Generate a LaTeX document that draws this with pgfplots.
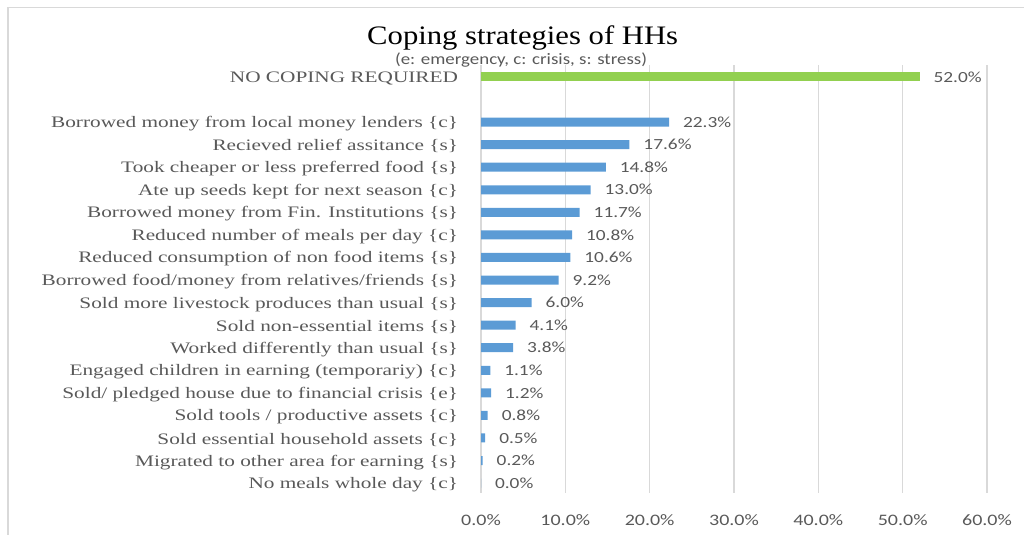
\documentclass[border=0pt]{standalone}
\usepackage{pgfplots}
\pgfplotsset{compat=1.18}
\usepackage{fontspec}
\setmainfont{Liberation Serif}
\newfontfamily\catfont[FakeStretch=1.33]{Liberation Serif}
\newfontfamily\titlefont[FakeStretch=1.15]{Liberation Serif}
\newfontfamily\numfont[FakeStretch=1.25]{Carlito}
\newfontfamily\subfont[FakeStretch=1.18]{Carlito}
\definecolor{bblue}{HTML}{5B9BD5}
\definecolor{bgreen}{HTML}{92D050}
\definecolor{tgray}{HTML}{595959}
\definecolor{ggray}{HTML}{D9D9D9}
\pgfplotstableread{
y v
0 0.0
1 0.2
2 0.5
3 0.8
4 1.2
5 1.1
6 3.8
7 4.1
8 6.0
9 9.2
10 10.6
11 10.8
12 11.7
13 13.0
14 14.8
15 17.6
16 22.3
}\blue
\pgfplotstableread{
y v
18 52.0
}\green
\begin{document}
\begin{tikzpicture}
\path[use as bounding box] (0,0) rectangle (768pt,401.25pt);
\draw[ggray, line width=1pt] (6pt,-2pt) -- (6pt,395.6pt) -- (770pt,395.6pt);
\node[font=\titlefont\fontsize{20}{23}\selectfont, text=black] at (392pt,373pt) {Coping strategies of HHs};
\node[font=\subfont\fontsize{12}{14}\selectfont, text=tgray] at (390.75pt,356.25pt) {(e: emergency, c: crisis, s: stress)};
\begin{axis}[
 at={(360.75pt,31.5pt)}, anchor=south west,
 scale only axis, width=379.5pt, height=321pt,
 xmin=0, xmax=60, ymin=-0.44, ymax=18.53,
 xbar, bar width=6.75pt,
 axis line style={draw=none},
 xtick={0,10,...,60},
 xticklabels={0.0\%,10.0\%,20.0\%,30.0\%,40.0\%,50.0\%,60.0\%},
 xmajorgrids, grid style={ggray, line width=1pt},
 major tick length=0pt,
 ytick={0,1,2,3,4,5,6,7,8,9,10,11,12,13,14,15,16,18},
 yticklabels={No meals whole day \{c\},
  Migrated to other area for earning \{s\},
  Sold essential household assets \{c\},
  Sold tools / productive assets \{c\},
  Sold/ pledged house due to financial crisis \{e\},
  Engaged children in earning (temporariy) \{c\},
  Worked differently than usual \{s\},
  Sold non-essential items \{s\},
  Sold more livestock produces than usual \{s\},
  Borrowed food/money from relatives/friends \{s\},
  Reduced consumption of non food items \{s\},
  Reduced number of meals per day \{c\},
  Borrowed money from Fin. Institutions \{s\},
  Ate up seeds kept for next season \{c\},
  Took cheaper or less preferred food \{s\},
  Recieved relief assitance \{s\},
  Borrowed money from local money lenders \{c\},
  NO COPING REQUIRED},
 yticklabel style={font=\catfont\fontsize{12}{14}\selectfont, text=tgray, anchor=east, inner sep=0pt, xshift=-17pt, yshift=-1.2pt},
 xticklabel style={font=\numfont\fontsize{12}{14}\selectfont, text=tgray, anchor=north, inner sep=0pt, yshift=-16pt},
 point meta=x,
 /pgf/number format/assume math mode=true,
 nodes near coords={\pgfmathprintnumber[fixed,fixed zerofill,precision=1]{\pgfplotspointmeta}\%},
 every node near coord/.append style={font=\numfont\fontsize{11.6}{14}\selectfont, text=tgray, anchor=west, xshift=7pt},
 clip=false,
]
\addplot[draw=none, fill=bblue, bar shift=0pt] table[x=v, y=y] {\blue};
\addplot[draw=none, fill=bgreen, bar shift=0pt] table[x=v, y=y] {\green};
\end{axis}
\end{tikzpicture}
\end{document}
